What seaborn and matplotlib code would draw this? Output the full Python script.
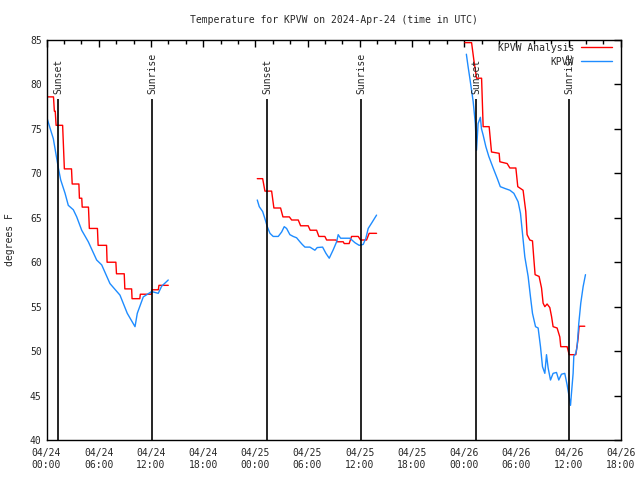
import pandas as pd
import matplotlib
matplotlib.use("Agg")
import matplotlib.pyplot as plt
import matplotlib.dates as mdates
import seaborn as sns

START = pd.Timestamp("2024-04-24 00:00")

# all times are hours after 04/24 00:00 UTC, temps in degrees F
ana1_h = [0.0, 0.8, 0.9, 1.0, 1.1, 1.85, 2.05, 2.87, 2.95, 3.72, 3.78, 4.05, 4.1, 4.82,
          4.92, 5.85, 5.93, 6.9, 6.96, 7.97, 8.04, 8.93, 9.0, 9.78, 9.83, 10.72, 10.78,
          12.05, 12.12, 12.85, 12.92, 13.99]
ana1_t = [78.6, 78.6, 77.0, 77.0, 75.4, 75.4, 70.5, 70.5, 68.8, 68.8, 67.2, 67.2, 66.2, 66.2,
          63.8, 63.8, 61.9, 61.9, 60.0, 60.0, 58.7, 58.7, 57.0, 57.0, 55.9, 55.9, 56.4,
          56.4, 56.9, 56.9, 57.4, 57.4]

ana2_h = [24.22, 24.84, 25.1, 25.87, 26.13, 26.9, 27.17, 27.91, 28.17, 28.93, 29.2, 30.07,
          30.3, 31.04, 31.3, 31.99, 32.19, 33.26, 33.43, 34.1, 34.21, 34.78, 35.06, 35.82,
          36.09, 36.78, 37.08, 37.93]
ana2_t = [69.4, 69.4, 68.0, 68.0, 66.1, 66.1, 65.1, 65.1, 64.75, 64.75, 64.1, 64.1,
          63.6, 63.6, 62.9, 62.9, 62.5, 62.5, 62.3, 62.3, 62.1, 62.1, 62.9, 62.9,
          62.5, 62.5, 63.25, 63.25]

ana3_h = [48.08, 48.85, 49.11, 49.42, 50.0, 50.18, 50.87, 51.14, 52.02, 52.1, 52.94, 53.25,
          53.94, 54.16, 54.77, 55.08, 55.23, 55.54, 55.85, 56.0, 56.15, 56.61, 56.89, 57.07,
          57.27, 57.53, 57.84, 58.04, 58.22, 58.68, 58.99, 59.1, 59.83, 59.94, 60.06, 60.83,
          61.09, 61.21, 61.86]
ana3_t = [84.7, 84.7, 82.75, 80.7, 80.7, 75.25, 75.25, 72.4, 72.25, 71.3, 71.1, 70.6,
          70.6, 68.5, 68.1, 65.7, 63.1, 62.5, 62.4, 60.45, 58.6, 58.4, 57.1, 55.4,
          55.0, 55.3, 54.9, 53.9, 52.75, 52.6, 51.6, 50.5, 50.5, 50.1, 49.6, 49.6,
          51.4, 52.8, 52.8]

obs1_h = [0.0, 0.4, 0.78, 1.36, 1.63, 2.13, 2.5, 3.08, 3.47, 4.04, 4.8, 5.76, 6.34, 7.29,
          8.44, 9.28, 10.17, 10.43, 11.12, 12.08, 12.84, 13.23, 13.99]
obs1_t = [76.4, 75.1, 73.9, 70.6, 69.25, 67.75, 66.4, 65.9, 65.1, 63.6, 62.3, 60.25, 59.7, 57.6,
          56.3, 54.25, 52.75, 54.25, 56.1, 56.7, 56.5, 57.3, 58.0]

obs2_h = [24.22, 24.45, 24.84, 25.1, 25.37, 25.68, 26.05, 26.63, 27.02, 27.32, 27.59, 27.97,
          28.35, 28.74, 29.12, 29.39, 29.7, 30.27, 30.84, 31.11, 31.73, 32.11, 32.49, 32.95,
          33.34, 33.52, 33.8, 34.86, 35.44, 35.93, 36.39, 36.7, 36.97, 37.36, 37.93]
obs2_t = [67.0, 66.25, 65.7, 64.9, 64.0, 63.25, 62.9, 62.9, 63.4, 64.0, 63.8, 63.1,
          62.9, 62.75, 62.3, 62.0, 61.7, 61.7, 61.35, 61.65, 61.7, 61.0, 60.45, 61.4,
          62.3, 63.1, 62.7, 62.7, 62.2, 61.9, 62.0, 62.7, 63.8, 64.4, 65.3]

obs3_h = [48.25, 48.45, 48.68, 49.03, 49.28, 49.42, 49.6, 49.86, 49.99, 50.18, 50.49, 50.83,
          51.33, 51.81, 52.15, 52.67, 53.25, 53.71, 54.2, 54.47, 54.7, 54.97, 55.35, 55.62,
          55.85, 56.2, 56.5, 56.77, 57.0, 57.27, 57.46, 57.65, 57.92, 58.22, 58.61, 58.87,
          59.18, 59.56, 59.83, 60.06, 60.22, 60.33, 60.52, 60.6, 60.83, 60.98, 61.17, 61.4,
          61.67, 61.94]
obs3_t = [83.4, 82.0, 80.5, 78.1, 75.6, 72.6, 75.6, 76.3, 75.0, 74.3, 73.0, 71.9,
          70.6, 69.4, 68.5, 68.3, 68.1, 67.75, 66.8, 65.5, 63.25, 60.6, 58.4, 56.1,
          54.25, 52.75, 52.6, 50.5, 48.25, 47.5, 49.6, 48.1, 46.75, 47.5, 47.6, 46.75,
          47.4, 47.5, 46.2, 44.9, 43.9, 45.25, 47.5, 49.45, 49.75, 50.5, 53.1, 55.4,
          57.25, 58.6]

sun_labels = ["Sunset", "Sunrise", "Sunset", "Sunrise", "Sunset", "Sunrise"]
sun_times = ["2024-04-24 01:21", "2024-04-24 12:09", "2024-04-25 01:22",
             "2024-04-25 12:10", "2024-04-26 01:22", "2024-04-26 12:04"]


def build_frame():
    parts = []
    segs = [("KPVW Analysis", 1, ana1_h, ana1_t), ("KPVW Analysis", 2, ana2_h, ana2_t),
            ("KPVW Analysis", 3, ana3_h, ana3_t), ("KPVW", 4, obs1_h, obs1_t),
            ("KPVW", 5, obs2_h, obs2_t), ("KPVW", 6, obs3_h, obs3_t)]
    for name, seg, hrs, temps in segs:
        parts.append(pd.DataFrame({
            "time": START + pd.to_timedelta(hrs, unit="h"),
            "temp": temps,
            "series": name,
            "segment": seg,
        }))
    return pd.concat(parts, ignore_index=True)


def main():
    df = build_frame()

    sns.set_style("white")
    plt.rcParams["font.family"] = ["DejaVu Sans Mono"]

    fig = plt.figure(figsize=(6.4, 4.8), dpi=100)
    ax = fig.add_axes([0.0727, 0.0833, 0.8973, 0.8334])

    sns.lineplot(data=df, x="time", y="temp", hue="series", units="segment",
                 estimator=None, sort=False, hue_order=["KPVW Analysis", "KPVW"],
                 palette={"KPVW Analysis": "#ff0000", "KPVW": "#1e8cff"},
                 linewidth=1.0, ax=ax)

    # sunrise / sunset markers
    for lab, t in zip(sun_labels, sun_times):
        ts = pd.Timestamp(t)
        ax.vlines(ts, 40, 78.4, color="black", linewidth=1.2)
        ax.text(ts, 78.9, lab, rotation=90, ha="center", va="bottom", fontsize=7)

    ax.set_xlim(START, pd.Timestamp("2024-04-26 18:00"))
    ax.set_ylim(40, 85)
    ax.set_yticks(range(40, 86, 5))
    ax.xaxis.set_major_locator(mdates.HourLocator(byhour=[0, 6, 12, 18]))
    ax.xaxis.set_minor_locator(mdates.HourLocator(byhour=range(0, 24, 2)))
    ax.xaxis.set_major_formatter(mdates.DateFormatter("%m/%d\n%H:%M"))
    ax.tick_params(axis="both", which="both", direction="in", top=True, right=True,
                   labelsize=7, color="black")
    ax.tick_params(axis="both", which="major", length=5, width=1)
    ax.tick_params(axis="x", which="minor", length=3, width=1)
    ax.tick_params(axis="x", pad=6)
    for sp in ax.spines.values():
        sp.set_color("black")
        sp.set_linewidth(1)

    ax.set_xlabel("")
    ax.set_ylabel("degrees F", fontsize=7, labelpad=11)
    ax.set_title("Temperature for KPVW on 2024-Apr-24 (time in UTC)", fontsize=7, pad=12)

    handles, labels = ax.get_legend_handles_labels()
    ax.legend(handles, labels, loc="upper right", bbox_to_anchor=(0.99, 1.0), frameon=False,
              fontsize=7, markerfirst=False, handlelength=3.2, handletextpad=0.7,
              borderaxespad=0.2, borderpad=0.1, labelspacing=0.4)

    fig.savefig("out.png", dpi=100)


main()
